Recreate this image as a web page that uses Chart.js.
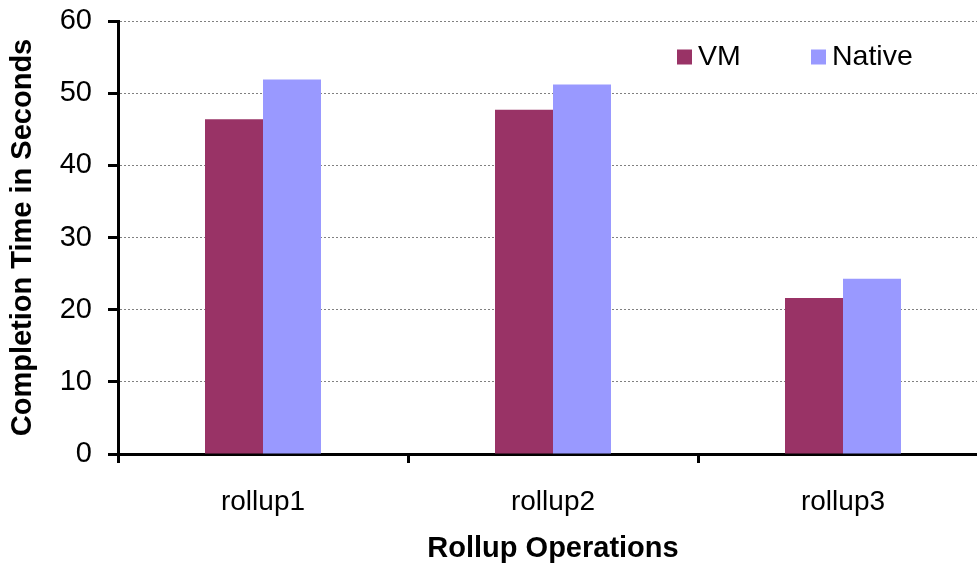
<!DOCTYPE html>
<html>
<head>
<meta charset="utf-8">
<script src="https://cdn.jsdelivr.net/npm/chart.js@4/dist/chart.umd.min.js"></script>
<style>
  html, body { margin: 0; padding: 0; background: #fff; overflow: hidden; }
  #wrap { width: 977px; height: 563px; overflow: hidden; }
  canvas { display: block; }
</style>
</head>
<body>
<div id="wrap"><canvas id="c" width="1000" height="563"></canvas></div>
<script>
// Rollup completion times (seconds)
const categories = ['rollup1', 'rollup2', 'rollup3'];
const vmTimes = [46.4, 47.7, 21.6];
const nativeTimes = [51.9, 51.2, 24.3];
const seriesNames = ['VM', 'Native'];
const seriesColors = ['#993366', '#9999FF'];
const yMin = 0, yMax = 60, yStep = 10;

const FONT = 'Arial, "Liberation Sans", sans-serif';

// Legend drawn inside the plot, top right
const insideLegend = {
  id: 'insideLegend',
  afterDraw(chart) {
    const ctx = chart.ctx;
    const boxX = [677, 811];
    const cy = 57;
    const size = 15;
    ctx.save();
    ctx.font = '28.5px ' + FONT;
    ctx.textBaseline = 'middle';
    ctx.textAlign = 'left';
    chart.data.datasets.forEach((ds, i) => {
      ctx.fillStyle = ds.backgroundColor;
      ctx.fillRect(boxX[i], cy - size / 2, size, size);
      ctx.fillStyle = '#000';
      ctx.fillText(ds.label, boxX[i] + 21, cy);
    });
    ctx.restore();
  }
};

new Chart(document.getElementById('c'), {
  type: 'bar',
  data: {
    labels: categories,
    datasets: [
      { label: seriesNames[0], data: vmTimes, backgroundColor: seriesColors[0] },
      { label: seriesNames[1], data: nativeTimes, backgroundColor: seriesColors[1] }
    ]
  },
  options: {
    responsive: false,
    animation: false,
    devicePixelRatio: 1,
    categoryPercentage: 0.4,
    barPercentage: 1.0,
    layout: { padding: { left: 0, top: 21, right: 12, bottom: 0 } },
    plugins: {
      legend: { display: false },
      tooltip: { enabled: false }
    },
    scales: {
      x: {
        grid: {
          display: true,
          offset: true,
          drawOnChartArea: false,
          drawTicks: true,
          tickLength: 9,
          tickColor: '#000',
          tickWidth: 3
        },
        border: { display: true, color: '#000', width: 3 },
        ticks: {
          color: '#000',
          font: { family: FONT, size: 28 },
          padding: 22
        },
        title: {
          display: true,
          text: 'Rollup Operations',
          color: '#000',
          font: { family: FONT, size: 29, weight: 'bold' },
          padding: { top: 0, bottom: -3 }
        },
        afterFit(scale) { scale.height = 109; }
      },
      y: {
        min: yMin,
        max: yMax,
        ticks: {
          stepSize: yStep,
          color: '#000',
          font: { family: FONT, size: 29 },
          padding: 16
        },
        grid: {
          color: '#808080',
          lineWidth: 1,
          drawTicks: true,
          tickLength: 10,
          tickColor: '#000',
          tickWidth: 3,
          tickBorderDash: []
        },
        border: { display: true, color: '#000', width: 3, dash: [2, 2] },
        title: {
          display: true,
          text: 'Completion Time in Seconds',
          color: '#000',
          font: { family: FONT, size: 29, weight: 'bold' },
          padding: { top: 6, bottom: 0 }
        },
        afterFit(scale) {
          scale.width = 118;
          scale.paddingTop = 0;
          scale.paddingBottom = 0;
        }
      }
    }
  },
  plugins: [insideLegend]
});
</script>
</body>
</html>
